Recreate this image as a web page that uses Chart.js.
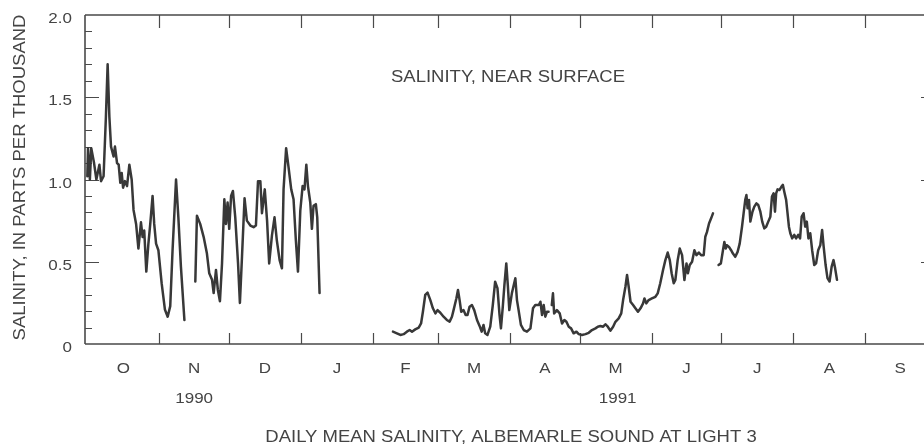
<!DOCTYPE html>
<html>
<head>
<meta charset="utf-8">
<script src="https://cdn.jsdelivr.net/npm/chart.js@4/dist/chart.umd.min.js"></script>
<style>
html,body{margin:0;padding:0;background:#fff;overflow:hidden;}
#wrap{position:relative;width:940px;height:446px;}
</style>
</head>
<body>
<div id="wrap"><canvas id="c" width="940" height="446"></canvas></div>
<script>
// Days counted from 1 October 1990 (day 0)
const monthLabels = ['O','N','D','J','F','M','A','M','J','J','A','S'];
const monthStartDays = [0,31,61,92,123,151,182,212,243,273,304,335,365];
const yearLabels = ['1990','1991'];
const yearLabelMonthIndex = [1,7];
const yTickValues = [0,0.5,1.0,1.5,2.0];
const yTickLabels = ['0','0.5','1.0','1.5','2.0'];

const seg1Days = [0,0.3,1.1,1.7,2.9,3.9,5.2,5.9,7,8,8.75,9.5,10.2,11.3,11.9,12.8,13.5,14.2,14.8,15.4,16.2,17.1,18.1,19.1,19.9,21,22,23.1,23.8,24.5,25.4,26.3,27.1,28.1,28.8,29.6,30.6,32,33.4,34.6,35.7,36.7,38.2,39.2,40.3,41.8];
const seg1Values = [1.02,1.19,1.0,1.19,1.1,1.0,1.09,0.99,1.02,1.38,1.70,1.38,1.2,1.14,1.2,1.1,1.09,0.98,1.04,0.95,0.99,0.96,1.09,1.0,0.815,0.73,0.58,0.74,0.65,0.69,0.44,0.61,0.73,0.90,0.73,0.61,0.57,0.37,0.21,0.166,0.23,0.57,1.0,0.77,0.47,0.146];

const seg2Days = [46.5,47.2,48.6,50.1,51.5,52.5,53.7,54.4,55.4,56.2,57.1,58,59,59.7,60.4,61.1,61.9,62.7,63.7,64.9,65.7,66.6,67.7,68.7,70.2,71.6,72.6,73.5,74.5,75.2,76.4,77.4,78.3,79.5,80.6,81.6,82.8,83.8,84.5,85.6,86.6,87.8,88.8,89.8,90.7,91.7,92.7,93.5,94.3,95,96,96.7,97.4,98.4,99,100];
const seg2Values = [0.38,0.78,0.73,0.65,0.55,0.43,0.39,0.31,0.45,0.33,0.26,0.49,0.88,0.73,0.86,0.70,0.90,0.93,0.77,0.49,0.25,0.53,0.886,0.75,0.72,0.71,0.72,0.99,0.99,0.795,0.94,0.75,0.49,0.66,0.77,0.63,0.51,0.46,0.94,1.19,1.08,0.94,0.88,0.63,0.44,0.81,0.96,0.94,1.09,0.96,0.86,0.70,0.84,0.85,0.77,0.31];

const seg3Days = [131.6,133.3,134.8,136.2,137.6,138.8,139.8,141.2,142.7,143.7,144.5,145.5,146.5,147.7,148.8,149.9,150.8,152,153.4,154.8,156,157,157.7,158.9,159.6,160.3,161,162,162.9,163.7,164.6,165.6,166.6,167.8,168.9,169.8,170.6,171.3,172.3,173.5,174.6,175.6,176.6,177.5,178.1,178.9,179.6,180.4,181.1,181.7,182.8,184.3,185,185.7,186.7,187.9,189.3,190.8,191.9,192.9,194.4,195.1,195.8,196.5,197.2,197.9,198.6];
const seg3Values = [0.075,0.065,0.055,0.06,0.075,0.085,0.075,0.089,0.10,0.125,0.196,0.298,0.312,0.267,0.217,0.186,0.206,0.19,0.166,0.146,0.136,0.166,0.206,0.277,0.328,0.267,0.196,0.206,0.176,0.176,0.227,0.237,0.206,0.146,0.11,0.075,0.116,0.065,0.055,0.106,0.237,0.379,0.34,0.176,0.095,0.227,0.359,0.49,0.349,0.206,0.308,0.40,0.267,0.206,0.116,0.085,0.075,0.095,0.217,0.237,0.237,0.257,0.176,0.237,0.166,0.196,0.196];

const seg4Days = [200,200.5,201,202.2,203.4,204.4,205.4,206.3,207.3,208.3,209.4,210.6,211.6,213,214.5,215.9,217.3,218.8,219.8,220.9,222.1,223.1,224.1,225.2,226.4,227.4,228.8,229.9,230.7,231.7,232.4,233.1,233.9,235,236,237.1,238.2,239.3,239.9,240.7,241.7,243.1,244.6,245.6,246.7,247.9,248.9,249.9,250.8,251.6,252.5,253.2,254.2,255.1,256.1,257.1,258,258.6,259.4,260.4,261.4,262.3,263.3,264.3,265.4,266.1,266.8,267.7,268.6,269.4];
const seg4Values = [0.237,0.308,0.186,0.206,0.186,0.125,0.146,0.135,0.105,0.095,0.065,0.075,0.06,0.055,0.06,0.068,0.085,0.095,0.105,0.109,0.105,0.12,0.105,0.081,0.105,0.135,0.156,0.186,0.267,0.348,0.42,0.348,0.257,0.237,0.217,0.196,0.217,0.247,0.277,0.247,0.267,0.277,0.287,0.308,0.369,0.45,0.51,0.556,0.51,0.43,0.369,0.389,0.51,0.58,0.54,0.389,0.49,0.43,0.48,0.50,0.57,0.54,0.556,0.54,0.54,0.652,0.68,0.733,0.764,0.794];

const seg5Days = [271.8,272.8,273.7,274.3,274.9,275.4,276.3,277.2,278,279,280,280.9,281.9,282.6,283.3,283.8,284.3,284.9,285.5,286.4,287.2,288.1,288.9,289.8,290.6,291.5,292.3,293.2,294.1,294.8,295.5,296.1,296.6,297.2,298,298.9,299.5,300.1,300.9,301.5,302.1,302.7,303.5,304.4,305.2,306.1,306.9,307.6,308.4,309.1,309.8,310.5,311.3,312.1,313,313.8,314.7,315.6,316.4,317,317.9,318.7,319.6,320.5,321.3,322,322.8];
const seg5Values = [0.48,0.49,0.57,0.62,0.58,0.60,0.59,0.57,0.55,0.53,0.56,0.61,0.713,0.795,0.876,0.906,0.825,0.876,0.744,0.804,0.835,0.855,0.845,0.804,0.744,0.703,0.713,0.744,0.774,0.896,0.916,0.804,0.916,0.94,0.936,0.957,0.967,0.926,0.876,0.795,0.713,0.673,0.642,0.663,0.642,0.663,0.642,0.774,0.795,0.713,0.744,0.642,0.673,0.57,0.48,0.49,0.57,0.60,0.693,0.60,0.48,0.40,0.38,0.47,0.51,0.46,0.39];

const segments = [[seg1Days,seg1Values],[seg2Days,seg2Values],[seg3Days,seg3Values],[seg4Days,seg4Values],[seg5Days,seg5Values]];

const LINE = '#383838';
const TEXT = '#444444';
const FONT = '"Liberation Sans", Arial, Helvetica, sans-serif';

const datasets = segments.map(([d,v]) => ({
  data: d.map((x,i) => ({x:x, y:v[i]})),
  borderColor: LINE,
  borderWidth: 2.5,
  borderJoinStyle: 'round',
  borderCapStyle: 'round',
  pointRadius: 0,
  tension: 0,
  fill: false
}));

function squashText(ctx, text, x, y, sy) {
  ctx.save();
  ctx.translate(x, y);
  ctx.scale(1, sy);
  ctx.fillText(text, 0, 0);
  ctx.restore();
}

const axesPlugin = {
  id: 'axesPlugin',
  beforeDatasetsDraw(chart) {
    const ctx = chart.ctx;
    const xs = chart.scales.x, ys = chart.scales.y;
    const a = chart.chartArea;
    ctx.save();
    ctx.strokeStyle = '#4a4a4a';
    ctx.lineWidth = 1.6;
    ctx.beginPath();
    ctx.moveTo(a.left, a.top); ctx.lineTo(a.right, a.top);
    ctx.moveTo(a.left, a.top); ctx.lineTo(a.left, a.bottom);
    ctx.moveTo(a.left, a.bottom); ctx.lineTo(a.right, a.bottom);
    ctx.moveTo(a.right, a.top); ctx.lineTo(a.right, a.bottom);
    ctx.stroke();
    ctx.lineWidth = 1.2;
    ctx.beginPath();
    monthStartDays.slice(1, 12).forEach(d => {
      const px = Math.round(xs.getPixelForValue(d)) + 0.5;
      ctx.moveTo(px, a.bottom); ctx.lineTo(px, a.bottom - 11);
      ctx.moveTo(px, a.top); ctx.lineTo(px, a.top + 13);
    });
    for (let k = 1; k < 20; k++) {
      const v = k / 10;
      const py = Math.round(ys.getPixelForValue(v)) + 0.5;
      const len = (k % 5 === 0) ? 14 : 7;
      ctx.moveTo(a.left, py); ctx.lineTo(a.left + len, py);
      ctx.moveTo(a.right, py); ctx.lineTo(a.right - len, py);
    }
    ctx.stroke();
    ctx.restore();
  },
  afterDraw(chart) {
    const ctx = chart.ctx;
    const xs = chart.scales.x, ys = chart.scales.y;
    ctx.save();
    ctx.fillStyle = TEXT;
    ctx.font = '17px ' + FONT;
    ctx.textBaseline = 'middle';
    ctx.textAlign = 'right';
    yTickValues.forEach((v, i) => {
      squashText(ctx, yTickLabels[i], 72, ys.getPixelForValue(v) + 4, 0.9);
    });
    ctx.textAlign = 'center';
    monthLabels.forEach((m, i) => {
      const mid = (monthStartDays[i] + monthStartDays[i + 1]) / 2;
      squashText(ctx, m, xs.getPixelForValue(mid), 369, 0.9);
    });
    yearLabels.forEach((y, i) => {
      const j = yearLabelMonthIndex[i];
      const mid = (monthStartDays[j] + monthStartDays[j + 1]) / 2;
      squashText(ctx, y, xs.getPixelForValue(mid) + (i === 0 ? 0 : 2), 399, 0.9);
    });
    ctx.font = '18.5px ' + FONT;
    squashText(ctx, 'DAILY MEAN SALINITY, ALBEMARLE SOUND AT LIGHT 3', 511, 437, 0.9);
    squashText(ctx, 'SALINITY, NEAR SURFACE', 508, 77, 0.9);
    ctx.save();
    ctx.translate(20, 177.5);
    ctx.rotate(-Math.PI / 2);
    ctx.scale(1, 0.92);
    ctx.fillText('SALINITY, IN PARTS PER THOUSAND', 0, 0);
    ctx.restore();
    ctx.restore();
  }
};

new Chart(document.getElementById('c'), {
  type: 'line',
  data: { datasets: datasets },
  options: {
    responsive: false,
    animation: false,
    events: [],
    layout: { padding: { left: 85, top: 15, right: 5, bottom: 102 } },
    plugins: { legend: { display: false }, tooltip: { enabled: false }, title: { display: false } },
    scales: {
      x: { type: 'linear', min: -1, max: 365, display: false },
      y: { type: 'linear', min: 0, max: 2, display: false }
    }
  },
  plugins: [axesPlugin]
});
</script>
</body>
</html>
